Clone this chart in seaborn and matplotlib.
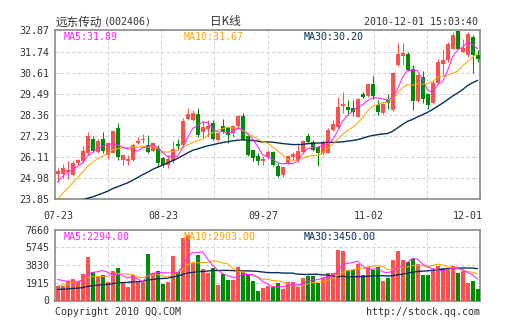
import numpy as np
import pandas as pd
import matplotlib
matplotlib.use("Agg")
import matplotlib.pyplot as plt
import seaborn as sns

# ---- data -------------------------------------------------------------
stock_name = "远东传动"
stock_code = "(002406)"
chart_kind = "日K线"
stamp = "2010-12-01 15:03:40"

date_labels = ["07-23", "08-23", "09-27", "11-02", "12-01"]
date_index = [0, 21, 41, 62, 84]

price_ticks = ["23.85", "24.98", "26.11", "27.23", "28.36", "29.49", "30.61", "31.74", "32.87"]
volume_ticks = [0, 1915, 3830, 5745, 7660]

opens = [25.21, 25.2, 25.3, 25.16, 25.78, 25.87, 26.32, 27.09, 26.35, 27.09,
         26.23, 26.32, 27.66, 25.96, 25.9, 25.93, 26.85, 27.0, 26.77, 26.43,
         26.6, 26.08, 25.69, 25.87, 26.8, 26.73, 28.14, 28.1, 28.38, 27.45,
         27.62, 27.9, 27.03, 27.78, 27.66, 27.39, 27.75, 28.3, 27.25, 26.46,
         26.14, 25.9, 26.1, 26.4, 25.63, 25.15, 25.77, 26.13, 25.95, 26.39,
         27.23, 26.93, 26.63, 26.31, 26.34, 27.55, 27.73, 28.83, 28.8, 28.7,
         28.26, 29.46, 29.37, 30.0, 28.9, 28.46, 29.15, 28.63, 31.0, 31.48,
         31.6, 30.8, 29.1, 30.37, 29.47, 28.98, 30.04, 31.1, 31.3, 31.9,
         32.85, 31.7, 31.53, 32.5, 31.57]
highs = [25.5, 25.75, 25.9, 25.87, 26.0, 26.68, 27.45, 27.21, 27.07, 27.45,
         26.85, 27.55, 27.93, 26.23, 26.23, 26.85, 27.18, 27.35, 27.3, 26.9,
         26.77, 26.1, 26.2, 26.94, 27.07, 28.2, 28.73, 28.64, 28.73, 28.02,
         28.1, 28.1, 27.4, 28.14, 27.75, 27.84, 28.37, 28.46, 27.3, 26.5,
         26.3, 26.14, 26.46, 26.45, 25.77, 25.6, 26.22, 26.4, 26.75, 27.01,
         27.37, 27.0, 26.7, 27.01, 27.64, 28.08, 29.29, 29.6, 29.15, 29.15,
         29.25, 29.6, 30.07, 30.42, 29.17, 29.0, 29.45, 30.64, 32.2, 32.2,
         31.7, 31.04, 30.56, 30.7, 29.52, 30.18, 31.34, 31.9, 32.25, 32.8,
         32.9, 32.4, 32.78, 32.65, 31.8]
lows = [24.8, 25.0, 24.95, 25.07, 25.7, 25.78, 26.23, 26.35, 26.32, 26.32,
        26.0, 26.3, 25.96, 25.69, 25.69, 25.87, 26.78, 26.85, 26.32, 26.38,
        25.6, 25.6, 25.5, 25.78, 26.5, 26.68, 28.1, 28.05, 27.2, 27.12,
        27.2, 27.03, 26.95, 27.4, 26.86, 27.2, 27.66, 27.0, 26.14, 25.87,
        25.69, 25.69, 26.05, 25.63, 25.06, 25.02, 25.74, 25.95, 25.86, 26.3,
        26.88, 26.45, 25.63, 26.22, 26.31, 27.52, 27.64, 28.44, 28.35, 28.3,
        28.22, 29.25, 29.33, 29.22, 28.33, 28.4, 28.65, 28.58, 30.95, 31.0,
        30.68, 28.63, 29.06, 28.98, 28.69, 28.95, 30.05, 30.5, 31.2, 31.9,
        31.85, 31.7, 31.45, 30.6, 31.2]
closes = [25.37, 25.5, 25.4, 25.78, 25.96, 26.41, 27.21, 26.41, 26.94, 26.41,
          26.85, 27.52, 26.11, 26.23, 26.0, 26.77, 26.98, 27.09, 26.35, 26.85,
          25.78, 25.69, 26.0, 26.53, 26.7, 28.02, 28.43, 28.47, 27.3, 27.7,
          27.75, 27.07, 27.4, 27.45, 27.3, 27.78, 28.3, 27.03, 26.23, 26.05,
          25.87, 25.99, 26.38, 25.68, 25.1, 25.56, 26.16, 26.25, 26.45, 26.96,
          26.93, 26.48, 26.31, 26.93, 27.55, 27.85, 28.8, 28.92, 28.6, 28.5,
          29.19, 29.3, 30.0, 29.35, 28.5, 28.94, 29.0, 30.59, 31.6, 31.66,
          30.77, 29.1, 30.5, 29.2, 28.9, 30.04, 31.2, 31.3, 32.14, 32.6,
          31.9, 31.95, 32.67, 31.57, 31.35]
volumes = [1600, 1550, 2130, 2360, 2130, 2900, 4700, 3100, 2700, 2800,
           2000, 3240, 3570, 1880, 1510, 2800, 1990, 1950, 5000, 2980,
           3240, 1770, 1990, 4820, 3090, 6780, 7100, 4090, 4900, 3460,
           3020, 3540, 1690, 2900, 2250, 2250, 3610, 3060, 2910, 2060,
           1050, 1300, 1600, 1500, 1900, 1200, 1950, 1950, 1450, 2450,
           2700, 2700, 1900, 2450, 3000, 3000, 5450, 5370, 3350, 3250,
           3900, 2800, 3600, 3350, 3630, 2100, 2400, 4350, 5400, 4350,
           4200, 4520, 3900, 2800, 2750, 3300, 3750, 3500, 3300, 3710,
           3010, 3200, 1900, 2100, 1260]

# sessions before 07-23, only used to seed the moving averages
prior_closes = [26.8, 26.5, 26.2, 25.6, 25.0, 24.6, 24.2, 23.9, 23.7, 23.5,
                23.4, 23.2, 23.0, 22.9, 22.7, 22.6, 22.5, 22.4, 22.3, 22.2,
                22.3, 22.6, 22.9, 23.2, 23.5, 24.0, 24.4, 24.9, 25.2]
prior_volumes = [1300, 1100, 950, 1200, 1000, 900, 1050, 800, 1150, 950,
                 1000, 850, 1100, 900, 1000, 1250, 900, 1050, 950, 1000,
                 800, 950, 850, 1000, 900, 2100, 2600, 2300, 2800]

# ---- derived series -----------------------------------------------------
n = len(closes)
idx = np.arange(n)
o, h, l, c = map(np.asarray, (opens, highs, lows, closes))
v = np.asarray(volumes, dtype=float)

def moving(prior, values, window):
    s = pd.Series(list(prior) + list(values), dtype=float)
    return s.rolling(window).mean().to_numpy()[len(prior):]

ma_price = {w: moving(prior_closes, closes, w) for w in (5, 10, 30)}
ma_vol = {w: moving(prior_volumes, volumes, w) for w in (5, 10, 30)}

RED = "#ff5050"
GREEN = "#008c00"
C5 = "#ff22ff"
C10 = "#ffa500"
C30 = "#0a2f5c"
GRID = "#d4d4d4"
TXT = "#333333"
EDGE = "#8a8a8a"

up = c >= o
bar_colors = np.where(up, RED, GREEN)

# ---- figure -------------------------------------------------------------
sns.set_theme(style="white")
plt.rcParams["font.family"] = ["DejaVu Sans Mono", "Noto Sans CJK SC"]
MONO = 7.2

W, H = 505, 330
fig = plt.figure(figsize=(W / 100, H / 100), dpi=100)
fig.patch.set_facecolor("white")

def box(left, top, right, bottom):
    return [left / W, 1 - bottom / H, (right - left) / W, (bottom - top) / H]

ax = fig.add_axes(box(55, 30.4, 480, 199.3))
axv = fig.add_axes(box(55, 229.7, 480, 300.5))

# candles
ax.vlines(idx, l, h, colors=bar_colors, linewidth=0.75, zorder=2)
body = np.maximum(np.abs(c - o), 0.03)
ax.bar(idx, body, bottom=np.minimum(o, c), width=0.8, color=bar_colors,
       linewidth=0, zorder=3)

line_styles = ((30, C30, 1.0), (10, C10, 0.75), (5, C5, 0.75))
for w, col, lw in line_styles:
    sns.lineplot(x=idx, y=ma_price[w], ax=ax, color=col, linewidth=lw,
                 estimator=None, legend=False, zorder=4)

# volume bars
direction = np.where(up, "up", "down")
sns.barplot(x=idx, y=v, hue=direction, palette={"up": RED, "down": GREEN},
            dodge=False, width=0.8, saturation=1, linewidth=0,
            legend=False, ax=axv, zorder=3)
for w, col, lw in line_styles:
    sns.lineplot(x=idx, y=ma_vol[w], ax=axv, color=col, linewidth=lw,
                 estimator=None, legend=False, zorder=4)

# axes styling
price_pos = np.linspace(23.85, 32.87, len(price_ticks))
vgrid = -0.5 + (n / 8) * np.arange(1, 8)
for a in (ax, axv):
    a.set_xlim(-0.5, n - 0.5)
    a.set_xlabel("")
    a.set_ylabel("")
    a.set_xticks([])
    a.set_facecolor("white")
    a.tick_params(axis="y", length=0, pad=4, labelsize=MONO, labelcolor=TXT)
    for sp in a.spines.values():
        sp.set_visible(True)
        sp.set_color(EDGE)
        sp.set_linewidth(1.2)
    for xg in vgrid:
        a.axvline(xg, color=GRID, linewidth=0.8, linestyle=(0, (3, 2)), zorder=1)

ax.set_ylim(23.85, 32.87)
ax.set_yticks(price_pos)
ax.set_yticklabels(price_ticks)
for yv in price_pos[1:-1]:
    ax.axhline(yv, color=GRID, linewidth=0.8, linestyle=(0, (3, 2)), zorder=1)

axv.set_ylim(0, 7660)
axv.set_yticks(volume_ticks)
axv.set_yticklabels([str(t) for t in volume_ticks])
for yv in volume_ticks[1:-1]:
    axv.axhline(yv, color=GRID, linewidth=0.8, linestyle=(0, (3, 2)), zorder=1)

# ---- texts ----------------------------------------------------------------
def ftext(x, y, s, **kw):
    kw.setdefault("fontsize", MONO)
    kw.setdefault("color", TXT)
    kw.setdefault("va", "center")
    fig.text(x / W, 1 - y / H, s, **kw)

ftext(55, 22, stock_name, fontsize=8.4, family=["Noto Sans CJK SC"])
ftext(104, 22, stock_code)
ftext(225, 22, chart_kind, fontsize=8.4, ha="center", family=["Noto Sans CJK SC"])
ftext(478, 22, stamp, ha="right")

ftext(64, 37, f"MA5:{ma_price[5][-1]:.2f}", color=C5)
ftext(184, 37, f"MA10:{ma_price[10][-1]:.2f}", color=C10)
ftext(304, 37, f"MA30:{ma_price[30][-1]:.2f}", color=C30)

ftext(64, 237, f"MA5:{ma_vol[5][-1]:.2f}", color=C5)
ftext(184, 237, f"MA10:{ma_vol[10][-1]:.2f}", color=C10)
ftext(304, 237, f"MA30:{ma_vol[30][-1]:.2f}", color=C30)

for lab, i in zip(date_labels, date_index):
    xpix = 55 + (i + 0.5) * 425 / n
    if i == n - 1:
        ftext(483, 216, lab, ha="right")
    else:
        ftext(xpix + 1, 216, lab, ha="center")

ftext(55, 312, "Copyright 2010 QQ.COM")
ftext(480, 312, "http://stock.qq.com", ha="right")

fig.savefig("out.png", dpi=100, facecolor="white")
